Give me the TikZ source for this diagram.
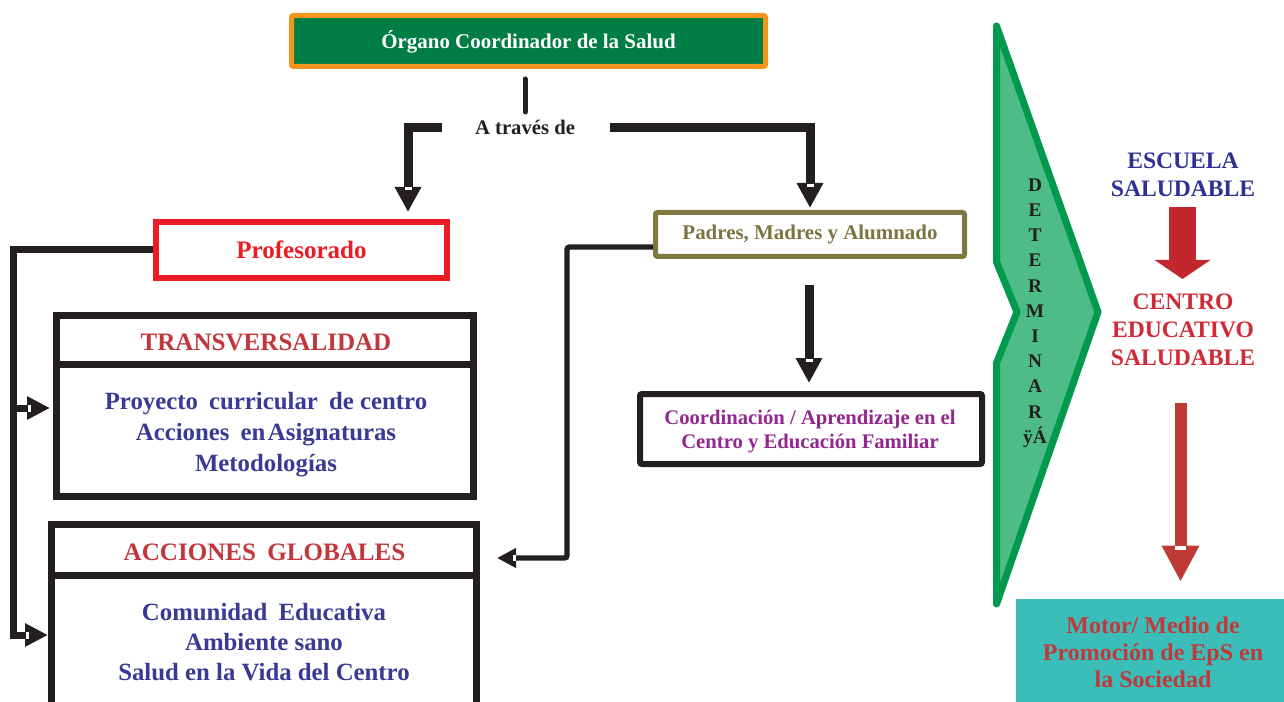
\documentclass[tikz,border=0pt]{standalone}
\usepackage{fontspec}
\setmainfont{Liberation Serif}
\usetikzlibrary{arrows.meta,calc}

\definecolor{inkblack}{HTML}{231F20}
\definecolor{orggreen}{HTML}{007D45}
\definecolor{orgorange}{HTML}{F7941D}
\definecolor{profred}{HTML}{ED1C24}
\definecolor{titlered}{HTML}{C2373B}
\definecolor{bodyblue}{HTML}{3A3A96}
\definecolor{olive}{HTML}{807840}
\definecolor{olivetext}{HTML}{7D7541}
\definecolor{coordpurple}{HTML}{92278F}
\definecolor{chevline}{HTML}{00994D}
\definecolor{chevfill}{HTML}{4DBC87}
\definecolor{escblue}{HTML}{2E3192}
\definecolor{centred}{HTML}{D02A36}
\definecolor{arrowredA}{HTML}{C1272D}
\definecolor{arrowredB}{HTML}{BE3A34}
\definecolor{motorteal}{HTML}{3BBDBA}
\definecolor{motorred}{HTML}{C1393A}

\begin{document}
\begin{tikzpicture}[x=0.75pt,y=-0.75pt,
  every node/.style={inner sep=0pt},
  blk/.style={draw=inkblack, line width=6.75pt},
  bighead/.style={-{Triangle[width=18.75pt,length=18.75pt]}},
  sidehead/.style={-{Triangle[width=16.5pt,length=17.25pt]}},
  smallhead/.style={-{Triangle[width=14pt,length=14.25pt]}},
  panel/.style={rectangle, draw=inkblack, fill=white, line width=5.25pt},
  bodytext/.style={font=\bfseries\fontsize{18.6}{23.25}\selectfont, text=bodyblue, align=center},
  titletext/.style={font=\bfseries\fontsize{18.8}{22}\selectfont, text=titlered},
  sidetext/.style={font=\bfseries\fontsize{17.7}{21}\selectfont, align=center}]

\useasboundingbox (0,0) rectangle (1284,702);
\clip (0,0) rectangle (1284,702);

% ---- header and the "A través de" junction
\node[rectangle, draw=orgorange, fill=orggreen, line width=3.75pt, rounded corners=1.5pt,
      minimum width=355.5pt, minimum height=38.25pt, text height=10.7pt, text depth=0pt,
      font=\bfseries\fontsize{15.7}{18}\selectfont, text=white] (org) at (528.5,41) {Órgano Coordinador de la Salud};
\node[font=\bfseries\fontsize{15.5}{18}\selectfont, text=inkblack] (tr) at (525,127.5) {A través de};

% ---- left column
\node[rectangle, draw=profred, fill=white, line width=4.5pt, minimum width=218.25pt, minimum height=42pt,
      text height=12.7pt, text depth=0pt, font=\bfseries\fontsize{18.8}{22}\selectfont, text=profred]
      (prof) at (301.5,250) {Profesorado};

\node[panel, minimum width=312.75pt, minimum height=135.75pt] (trans) at (265,406) {};
\draw[line width=5.25pt, inkblack] ($(trans.north west)+(0,52)$) -- ($(trans.north east)+(0,52)$);
\node[titletext] (transT) at ($(trans.north)+(1,30.5)$) {TRANSVERSALIDAD};
\node[bodytext] (transB) at ($(trans.center)+(1,29)$)
  {Proyecto\hspace{0.45em}curricular\hspace{0.45em}de centro\\Acciones\hspace{0.45em}en\hspace{0.1em}Asignaturas\\Metodologías};

\node[panel, minimum width=318.75pt, minimum height=176.6pt] (glob) at (264,642.25) {};
\draw[line width=5.25pt, inkblack] ($(glob.north west)+(0,54)$) -- ($(glob.north east)+(0,54)$);
\node[titletext] (globT) at ($(glob.north)+(0.5,31.5)$) {ACCIONES\hspace{0.45em}GLOBALES};
\node[bodytext, font=\bfseries\fontsize{18.6}{22.5}\selectfont] (globB) at ($(glob.north)+(0,121)$)
  {Comunidad\hspace{0.45em}Educativa\\Ambiente sano\\Salud en la Vida del Centro};

% ---- middle column
\node[rectangle, draw=olive, fill=white, line width=3.75pt, rounded corners=1.5pt,
      minimum width=231.75pt, minimum height=33pt, text height=8.1pt, text depth=0pt,
      font=\bfseries\fontsize{15.7}{18}\selectfont, text=olivetext] (pad) at (810,234.5) {Padres, Madres y Alumnado};

\node[rectangle, draw=inkblack, fill=white, line width=4.5pt, rounded corners=1.5pt,
      minimum width=256.5pt, minimum height=52.5pt] (coord) at (811,429) {};
\node[font=\bfseries\fontsize{15.5}{18}\selectfont, text=coordpurple, align=center] (coordT) at (810,432)
  {Coordinación / Aprendizaje en el\\Centro y Educación Familiar};

% ---- chevron with the vertical word
\draw[draw=chevline, fill=chevfill, line width=5.25pt, line join=round]
  (996.5,26) -- (1098,312) -- (996.5,604) -- (996.5,363) -- (1017,312) -- (996.5,262) -- cycle;
\node[font=\bfseries\fontsize{14.5}{18.9}\selectfont, text=inkblack, align=center] (det) at (1035,313)
  {D\\E\\T\\E\\R\\M\\I\\N\\A\\R\\ÿÁ};

% ---- right column
\node[sidetext, text=escblue] (esc) at (1183,175) {ESCUELA\\SALUDABLE};
\node[sidetext, text=centred] (cen) at (1183,330) {CENTRO\\EDUCATIVO\\SALUDABLE};
\node[rectangle, fill=motorteal, minimum width=201pt, minimum height=77.25pt] (motor) at (1150,650.5) {};
\node[font=\bfseries\fontsize{18}{20.25}\selectfont, text=motorred, align=center] (motorT) at (1153,652)
  {Motor/ Medio de\\Promoción de EpS en\\la Sociedad};

% ---- connectors
\draw[inkblack, line width=3.75pt, line cap=round] ($(org.south)+(-3.5,10)$) -- ($(org.south)+(-3.5,43)$);

\coordinate (tl) at (442,128);
\coordinate (bendL) at (408,128);
\coordinate (tipL) at ($(bendL |- prof.north)+(0,-7)$);
\draw[blk, bighead] (tl) -- (bendL) -- (tipL);

\coordinate (trr) at (610,128);
\coordinate (bendR) at (810,128);
\coordinate (tipR) at ($(pad.north)+(0,-2)$);
\draw[blk, bighead] (trr) -- (bendR) -- (tipR);

\coordinate (ps) at ($(pad.south)+(-1,26)$);
\coordinate (tipC) at ($(ps |- coord.north)+(0,-8)$);
\draw[blk, bighead] (ps) -- (tipC);

\coordinate (lb) at (13,635);
\coordinate (lm) at (13,408);
\coordinate (tipD) at (glob.west |- lb);
\coordinate (tipU) at ($(lm -| trans.west)+(-3,0)$);
\draw[draw=inkblack, line width=5.25pt, sidehead] (prof.west) -| (lb) -- (tipD);
\draw[draw=inkblack, line width=5.25pt, sidehead] (lm) -- (tipU);

\coordinate (pb) at (567,558);
\coordinate (tipG) at ($(glob.east |- pb)+(17,0)$);
\draw[draw=inkblack, line width=4.1pt, rounded corners=2pt, smallhead] ($(pad.west)+(0,12.5)$) -| (pb) -- (tipG);

\coordinate (e1) at ($(esc.center)+(-0.5,32)$);
\coordinate (e2) at ($(cen.center)+(-0.5,-51)$);
\draw[arrowredA, line width=20.25pt, -{Triangle[width=41.25pt,length=14.25pt]}] (e1) -- (e2);

\coordinate (c2) at ($(cen.center)+(-2.5,73)$);
\coordinate (tipM) at ($(c2 |- motor.north)+(0,-17)$);
\draw[arrowredB, line width=9pt, -{Triangle[width=26.25pt,length=27pt]}] (c2) -- (tipM);

% small light notches at the base of the arrow heads
\fill[white] ($(tipL)+(-3.5,-25)$) rectangle ($(tipL)+(3.5,-22)$);
\fill[white] ($(tipR)+(-3.5,-24)$) rectangle ($(tipR)+(3.5,-21)$);
\fill[white] ($(tipC)+(-3.5,-24)$) rectangle ($(tipC)+(3.5,-21)$);
\fill[white] ($(tipU)+(-22,-3.5)$) rectangle ($(tipU)+(-19,3.5)$);
\fill[white] ($(tipD)+(-22,-3.5)$) rectangle ($(tipD)+(-19,3.5)$);
\fill[white] ($(tipG)+(16,-3)$) rectangle ($(tipG)+(19,3)$);
\fill[white] ($(tipM)+(-5.5,-36)$) rectangle ($(tipM)+(5.5,-32)$);
\end{tikzpicture}
\end{document}
